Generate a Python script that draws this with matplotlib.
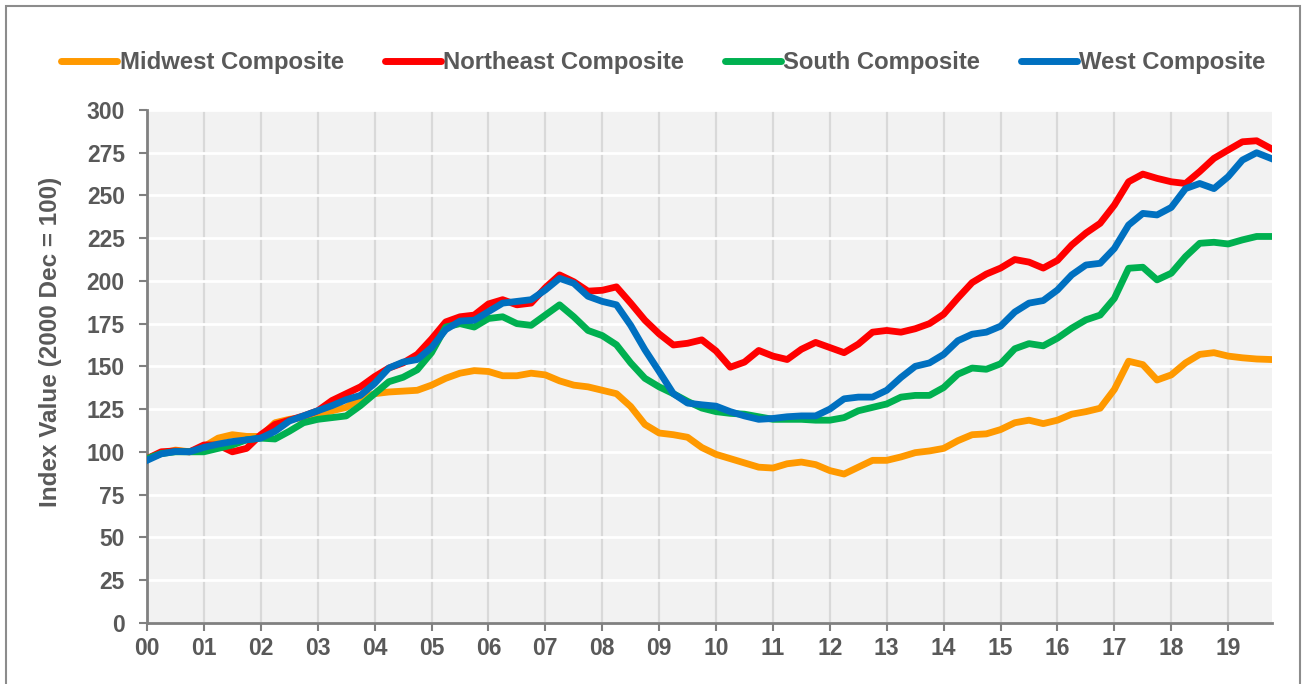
import matplotlib.pyplot as plt
import numpy as np
from matplotlib.patches import Rectangle

plt.rcParams['font.family'] = ['Liberation Sans', 'DejaVu Sans']

# quarterly index values, 2000 Q1 .. 2019 Q4
midwest = [96, 99, 101, 100, 103, 108, 110, 109, 109, 117, 119, 120, 122, 124, 126, 131,
           134, 135, 135.5, 136, 139, 143, 146, 147.5, 147, 144.5, 144.5, 146, 145, 141.5, 139, 138,
           136, 134, 126.5, 116, 111, 110, 108.5, 102.5, 98.5, 96, 93.5, 91, 90.5, 93, 94, 92.5,
           89, 87, 91, 95, 95, 97, 99.5, 100.5, 102, 106.5, 110, 110.5, 113, 117, 118.5, 116.5,
           118.5, 122, 123.5, 125.5, 136.5, 153, 151, 142, 145, 152, 157, 158, 156, 155, 154.3, 154]
northeast = [96, 100, 100.5, 100, 104, 104, 100, 102, 110, 116, 118.5, 121, 124, 130, 134, 138,
             144, 149, 152, 157, 166, 176, 179, 180, 186.5, 189, 186, 187, 196, 203.5, 199.5, 194,
             194.5, 196.5, 187, 177, 169, 162.5, 163.5, 165.5, 159, 149.5, 152.5, 159.3, 156, 154, 160, 164,
             161, 158, 163, 170, 171, 170, 172, 175, 180.5, 190, 199, 204, 207.5, 212.5, 211, 207.5,
             212, 221, 228, 233.7, 244.4, 258, 262.5, 260, 258, 257, 264, 271.7, 276.6, 281.4, 282, 277.5]
south = [96, 99, 100, 100, 100, 102, 104, 107, 108, 107.5, 112, 117, 119, 120, 121, 127,
         134, 141, 143.6, 148, 158, 173, 175, 173, 178, 179, 175, 174, 180, 186, 179, 171,
         168, 162.6, 152, 143, 138, 134, 129.5, 125.6, 123.5, 122.5, 122, 120.5, 119, 119, 119, 118.5,
         118.5, 120, 124, 126, 128, 132, 133, 133, 137.6, 145.4, 149, 148.3, 151.5, 160.3, 163.3, 162,
         166.5, 172.3, 177.2, 180, 189.8, 207.4, 208, 200.6, 204.5, 214.2, 222, 222.6, 221.6, 224, 226, 226]
west = [95, 98.8, 100.2, 100, 102.6, 104.5, 106, 107, 108, 112, 118, 121, 124, 127, 130.5, 133,
        140, 149, 152.5, 154, 161, 171.5, 176.5, 177, 182, 187, 188, 189, 194.7, 201.5, 198.6, 191,
        188, 186, 174, 159.7, 147, 134, 128.5, 127.5, 126.7, 123.5, 121, 119, 119.5, 120.5, 121, 121,
        125, 131, 132, 132, 136, 143.5, 150, 152, 157, 165, 168.8, 170, 173.5, 181.8, 187, 188.5,
        194.7, 203.5, 209.3, 210.3, 219, 232.7, 239.5, 238.6, 243, 254, 257, 254, 261, 270.7, 275, 271.7]

names = ['Midwest Composite', 'Northeast Composite', 'South Composite', 'West Composite']
colors = ['#ff9900', '#ff0000', '#00b050', '#0070c0']
year_labels = ['%02d' % y for y in range(20)]

t = np.arange(len(midwest)) / 4.0
txt = '#595959'

fig = plt.figure(figsize=(13.04, 6.84), dpi=100)
ax = fig.add_axes([147 / 1304, 1 - 622.7 / 684, (1272 - 147) / 1304, (622.7 - 110) / 684])
ax.set_facecolor('#f2f2f2')

for s, name, c in zip([midwest, northeast, south, west], names, colors):
    ax.plot(t, s, color=c, lw=4.9, label=name, solid_joinstyle='round', zorder=3)

ax.set_xlim(0, 19.77)
ax.set_ylim(0, 300)
ax.set_yticks(np.arange(0, 301, 25))
ax.set_xticks(np.arange(20))
ax.set_xticklabels(year_labels)

ax.grid(axis='x', color='#d9d9d9', lw=1.6, zorder=1)
ax.grid(axis='y', color='white', lw=2, zorder=1)
ax.set_axisbelow(True)

for sp in ['top', 'right']:
    ax.spines[sp].set_visible(False)
for sp in ['left', 'bottom']:
    ax.spines[sp].set_color('#808080')
    ax.spines[sp].set_linewidth(2)

ax.tick_params(axis='y', length=6, width=1.5, color='#808080', pad=10, labelsize=16.5, labelcolor=txt)
ax.tick_params(axis='x', length=6, width=1.5, color='#808080', pad=4, labelsize=16.5, labelcolor=txt)
for lab in ax.get_xticklabels() + ax.get_yticklabels():
    lab.set_fontweight('bold')

ax.set_ylabel('Index Value (2000 Dec = 100)', fontsize=17.5, fontweight='bold', color=txt)
ax.yaxis.set_label_coords(-0.0756, 0.548)

leg = fig.legend(loc='center', bbox_to_anchor=(663.5 / 1304, 1 - 63 / 684), ncol=4, frameon=False,
                 handlelength=2.35, handletextpad=0.1, columnspacing=1.7,
                 prop={'weight': 'bold', 'size': 17.2})
for lab in leg.get_texts():
    lab.set_color(txt)
for h in leg.get_lines():
    h.set_solid_capstyle('round')
    h.set_linewidth(5)

# outer frame
fig.patches.append(Rectangle((6 / 1304, -0.1), (1300 - 6) / 1304, 1.1 - 6 / 684,
                             transform=fig.transFigure, fill=False, ec='#8c8c8c', lw=1.5))

fig.savefig('out.png', dpi=100)
